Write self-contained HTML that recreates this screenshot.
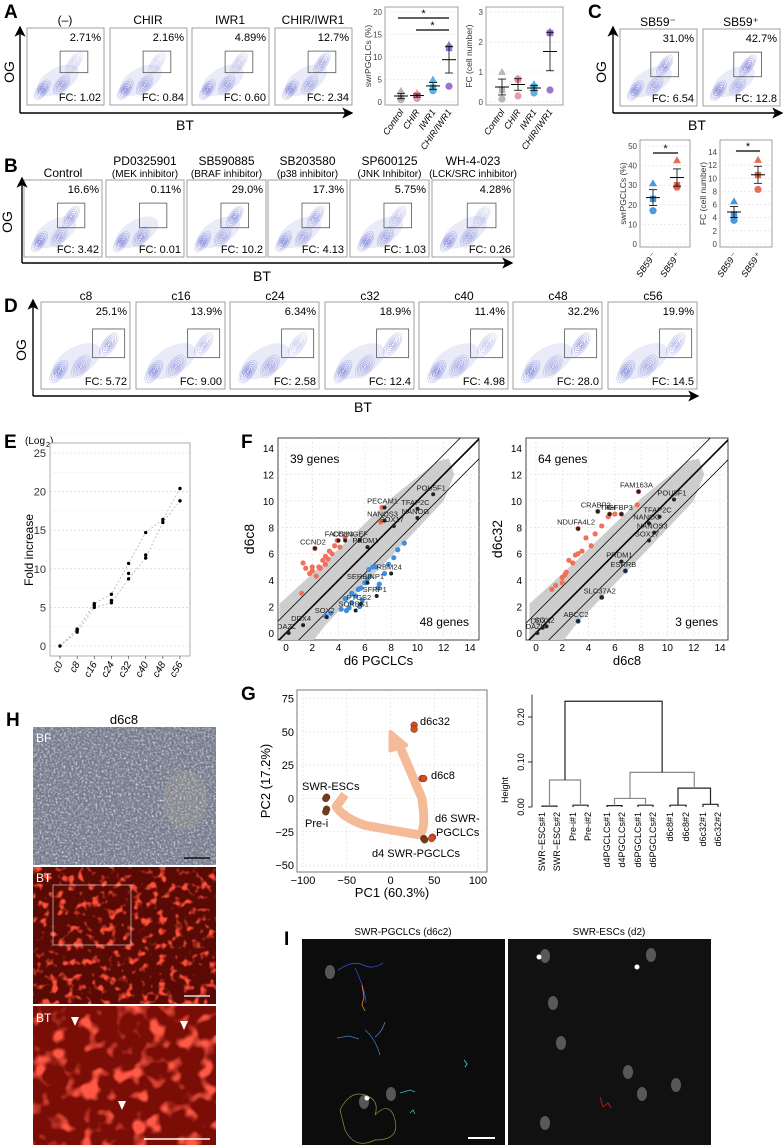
<!DOCTYPE html>
<html><head><meta charset="utf-8"><style>
html,body{margin:0;padding:0;background:#fff}
svg{display:block;font-family:"Liberation Sans",Arial,sans-serif}
</style></head><body>
<svg id="fig" width="784" height="1145" viewBox="0 0 784 1145" xmlns="http://www.w3.org/2000/svg">
<defs>
<marker id="arr" markerWidth="8" markerHeight="8" refX="7" refY="4" orient="auto"><path d="M0,0 L8,4 L0,8 L2,4 Z" fill="#000"/></marker>
<filter id="noiseBF" x="0" y="0" width="100%" height="100%"><feTurbulence type="fractalNoise" baseFrequency="0.45" numOctaves="2" seed="3"/><feColorMatrix type="matrix" values="0 0 0 0 0.15  0 0 0 0 0.18  0 0 0 0 0.3  0 0 0 2.2 -0.7"/></filter>
<filter id="noiseBF2" x="0" y="0" width="100%" height="100%"><feTurbulence type="fractalNoise" baseFrequency="0.5" numOctaves="1" seed="9"/><feColorMatrix type="matrix" values="0 0 0 0 0.85  0 0 0 0 0.83  0 0 0 0 0.78  0 0 0 2.2 -0.85"/></filter>
<filter id="noiseRed" x="0" y="0" width="100%" height="100%"><feTurbulence type="fractalNoise" baseFrequency="0.12" numOctaves="2" seed="7"/><feColorMatrix type="matrix" values="0 0 0 0 1  0 0 0 0 0.08  0 0 0 0 0.04  0 0 0 5 -2.7"/></filter>
<filter id="noiseRed2" x="0" y="0" width="100%" height="100%"><feTurbulence type="fractalNoise" baseFrequency="0.06" numOctaves="2" seed="11"/><feColorMatrix type="matrix" values="0 0 0 0 1  0 0 0 0 0.1  0 0 0 0 0.06  0 0 0 5 -2.6"/></filter>
</defs>
<g id="root"></g>
</svg>
<script>
// ---------- data ----------
const flowA = [["(–)","2.71%","FC: 1.02",0.12],["CHIR","2.16%","FC: 0.84",0.1],["IWR1","4.89%","FC: 0.60",0.3],["CHIR/IWR1","12.7%","FC: 2.34",0.7]];
const flowB = [["Control","","16.6%","FC: 3.42",0.7],["PD0325901","(MEK inhibitor)","0.11%","FC: 0.01",0],["SB590885","(BRAF inhibitor)","29.0%","FC: 10.2",0.9],["SB203580","(p38 inhibitor)","17.3%","FC: 4.13",0.7],["SP600125","(JNK Inhibitor)","5.75%","FC: 1.03",0.3],["WH-4-023","(LCK/SRC inhibitor)","4.28%","FC: 0.26",0.2]];
const flowC = [["SB59⁻","31.0%","FC: 6.54",0.8],["SB59⁺","42.7%","FC: 12.8",1]];
const flowD = [["c8","25.1%","FC: 5.72",0.8],["c16","13.9%","FC: 9.00",0.5],["c24","6.34%","FC: 2.58",0.3],["c32","18.9%","FC: 12.4",0.6],["c40","11.4%","FC: 4.98",0.4],["c48","32.2%","FC: 28.0",0.9],["c56","19.9%","FC: 14.5",0.6]];

const aCats = ["Control","CHIR","IWR1","CHIR/IWR1"];
const aColors = ["#aaaaaa","#e58a98","#3fa6d8","#8a5cc8"];
const aPct = [[2.5,1.0,0.5],[2.0,1.5,0.8],[5.0,3.2,2.5],[12.7,12.0,3.5]];
const aFC = [[1.0,0.4,0.1],[0.8,0.75,0.2],[0.6,0.5,0.3],[2.35,2.3,0.4]];
const cCats = ["SB59⁻","SB59⁺"];
const cColors = ["#2a86d8","#e0553c"];
const cPct = [[31,23,17],[42.7,30,29]];
const cFC = [[6.5,4.5,3.6],[12.8,10.5,8.3]];

const eCats = ["c0","c8","c16","c24","c32","c40","c48","c56"];
const eVals = [[0],[1.8,2.0,2.2],[5.0,5.3,5.5],[5.6,5.9,6.7],[8.7,9.4,10.7],[11.4,11.8,14.7],[16.0,16.4],[18.8,20.4]];
const eTicks = [0,5,10,15,20,25];

const f1Red = [[1.2,3.0],[1.3,5.3],[1.5,4.9],[2,5.0],[2.2,6.4],[2.5,5.0],[2.6,4.9],[2.8,5.5],[3,5.8],[3.2,5.6],[3.5,6.0],[3.7,6.6],[3.9,7.0],[4.5,7.2],[2.0,4.7],[3.0,5.2],[7.3,9.5],[7.2,8.4],[1.8,4.5],[2.3,4.3],[4.1,6.5],[3.3,6.2]];
const f1Blue = [[3,1.3],[3.4,1.5],[4.2,1.8],[4.8,1.9],[5,2.3],[5.3,2.8],[5.5,3.3],[5.7,3.4],[5.8,2.5],[6,3.8],[6.2,4.1],[6.4,4.3],[6.6,5.0],[6.8,5.0],[7.0,3.4],[7.1,3.7],[7.5,4.5],[7.8,5.2],[8.2,5.7],[8.5,6.3],[9,6.8],[4.5,2.6],[5.0,3.0],[5.6,2.0],[6.3,4.8],[4.6,1.7]];
const f1Lab = [["POU5F1",11.2,10.5],["PECAM1",7.5,9.5],["TFAP2C",10,9.4],["NANOS3",7.5,8.5],["NANOG",10,8.7],["SOX17",8.2,8.1],["FADS1",4.0,7.0],["CDH3",4.5,7.0],["NGEF",5.6,7.0],["PRDM1",6.2,6.5],["CCND2",2.2,6.4],["RBM24",8.0,4.5],["SERBINP1",6.2,3.8],["SFRP1",6.9,2.8],["PTGS2",5.7,2.2],["SORBS1",5.3,1.7],["SOX2",3.1,1.2],["DDX4",1.3,0.6],["DAZL",0.2,0.0]];
const f2Red = [[1.2,3.3],[1.5,3.6],[2,4.2],[2.2,4.4],[2.3,4.6],[2.5,5.5],[2.8,5.3],[3,5.9],[3.2,6.0],[3.5,6.2],[3.8,7.2],[4.2,6.6],[4.5,7.5],[5.0,8.1],[5.5,8.8],[6.0,9.0],[3.2,7.9],[4.7,9.2],[5.6,9.0],[6.5,9.0],[7.8,10.7],[7.7,9.7],[2.0,3.8]];
const f2Blue = [[6.8,4.7],[5,2.7],[3.2,0.9]];
const f2Lab = [["FAM163A",7.8,10.7],["POU5F1",10.5,10.1],["CRABP2",4.7,9.2],["TRH",5.6,9.0],["IGFBP3",6.5,9.0],["TFAP2C",9.4,8.8],["NDUFA4L2",3.2,7.9],["NANOG",8.6,8.3],["NANOS3",9.0,7.6],["SOX17",8.6,7.0],["PRDM1",6.5,5.4],["ESRRB",6.8,4.7],["SLC37A2",5,2.7],["ABCC2",3.2,0.9],["SOX2",0.8,0.5],["DDX4",0.5,0.4],["DAZL",0.1,0.0]];

const gX = [-73,-74,-73,-74,38,39,48,47,36,38,27,27];
const gY = [1,0,-8,-10,-30,-31,-29,-30,15,15,55,52];
const gCol = ["#7a3a10","#7a3a10","#7a3a10","#7a3a10","#7a3a10","#7a3a10","#d84b1e","#d84b1e","#d84b1e","#d84b1e","#d84b1e","#d84b1e"];
const gTicksX = [-100,-50,0,50,100];
const gTicksY = [-50,-25,0,25,50,75];

const dLeaves = ["SWR−ESCs#1","SWR−ESCs#2","Pre-i#1","Pre-i#2","d4PGCLCs#1","d4PGCLCs#2","d6PGCLCs#1","d6PGCLCs#2","d6c8#1","d6c8#2","d6c32#1","d6c32#2"];
const dMerges = [[0,1,0.002],[2,3,0.004],[4,5,0.003],[6,7,0.004],[8,9,0.004],[10,11,0.006],[12,13,0.06],[14,15,0.019],[16,17,0.042],[19,20,0.077],[18,21,0.235]];
const dTicks = [0,0.1,0.2];

// ---------- helpers ----------
const NS="http://www.w3.org/2000/svg";
const root=document.getElementById('root');
function el(tag,attrs,parent){const e=document.createElementNS(NS,tag);for(const k in attrs)e.setAttribute(k,attrs[k]);(parent||root).appendChild(e);return e;}
function txt(x,y,s,size,attrs,parent){const t=el('text',Object.assign({x:x,y:y,'font-size':size},attrs||{}),parent);t.textContent=s;return t;}
function label(x,y,s){const t=txt(x,y,s,19,{'font-weight':'bold'});}

function flow(x,y,w,h,gate,pct,fc,frac,name){
  const g=el('g',{});
  
  
  el('rect',{x:x,y:y,width:w,height:h,fill:'#fff',stroke:'#888','stroke-width':0.8},g);
  const hx=x+w*0.4,hy=y+h*0.68;
  el('ellipse',{cx:hx,cy:hy,rx:w*0.3,ry:h*0.16,fill:'#d6d8f4',opacity:0.5,transform:`rotate(-30 ${hx} ${hy})`},g);
  const blobs=[[0.2,0.8,0.07,0.15,1],[0.45,0.74,0.08,0.15,0.6+0.2*(1-frac)],[gate[0]+gate[2]*0.5,gate[1]+gate[3]*0.55,0.07,0.16,frac]];
  blobs.forEach(b=>{
    if(b[4]<=0.02) return;
    const cx=x+w*b[0],cy=y+h*b[1];
    for(let i=6;i>=1;i--){
      el('ellipse',{cx:cx,cy:cy,rx:w*b[2]*i/6,ry:h*b[3]*i/6,fill:'none',stroke:'#5058c8','stroke-width':0.6,opacity:0.2+0.7*b[4]*(7-i)/6,transform:`rotate(35 ${cx} ${cy})`},g);
    }
  });
  const gr=el('rect',{x:x+w*gate[0],y:y+h*gate[1],width:w*gate[2],height:h*gate[3],fill:'none',stroke:'#555','stroke-width':0.8},g);
  
  
  const p=txt(x+w-3,y+13,pct,11,{'text-anchor':'end'},g);
  
  
  const f=txt(x+w-3,y+h-4,fc,11,{'text-anchor':'end'},g);
  
  
}
function axesArrow(x0,yTop,yAxis,xRight,og,bt){
  el('line',{x1:x0,y1:yAxis,x2:x0,y2:yTop,stroke:'#000','stroke-width':1.4,'marker-end':'url(#arr)'});
  el('line',{x1:x0,y1:yAxis,x2:xRight,y2:yAxis,stroke:'#000','stroke-width':1.4,'marker-end':'url(#arr)'});
  const o=txt(og[0],og[1],'OG',14,{transform:`rotate(-90 ${og[0]} ${og[1]})`,'text-anchor':'middle'});
  
  const b=txt(bt[0],bt[1],'BT',14,{'text-anchor':'middle'});
  
}

// ---------- panel A ----------
label(4,18,'A');
const aX=[27,110,192,275];
flowA.forEach((d,i)=>{
  const t=txt(aX[i]+38,24,d[0],12,{'text-anchor':'middle'});
  flow(aX[i],28,77,77,[0.43,0.3,0.36,0.28],d[1],d[2],d[3],'flow-plot-a-'+i);
});
axesArrow(20,27,113,352,[14,72],[185,130]);

function dotPlot(x0,x1,yTop,yBot,y0px,yMaxPx,yMax,ticks,cats,colors,vals,ylab,name,catXs,sig,labY){
  const g=el('g',{});
  
  
  el('rect',{x:x0,y:yTop,width:x1-x0,height:yBot-yTop,fill:'#fff',stroke:'#888','stroke-width':0.8},g);
  const sy=v=>y0px-(y0px-yMaxPx)*v/yMax;
  ticks.forEach(t=>{
    el('line',{x1:x0,x2:x1,y1:sy(t),y2:sy(t),stroke:'#ddd','stroke-width':0.6,'stroke-dasharray':'2,2'},g);
    const tl=txt(x0-3,sy(t)+3,String(t),8,{'text-anchor':'end',fill:'#444'},g);
    
  });
  const yl=txt(x0-14,(yTop+yBot)/2,ylab,8.5,{transform:`rotate(-90 ${x0-14} ${(yTop+yBot)/2})`,'text-anchor':'middle',fill:'#333'},g);
  
  cats.forEach((c,i)=>{
    const cx=catXs[i];
    const v=vals[i];
    const m=v.reduce((a,b)=>a+b,0)/v.length;
    const sd=Math.sqrt(v.reduce((a,b)=>a+(b-m)*(b-m),0)/(v.length-1))/Math.sqrt(v.length);
    const tri=el('path',{d:`M${cx-4},${sy(v[0])+3} L${cx+4},${sy(v[0])+3} L${cx},${sy(v[0])-4} Z`,fill:colors[i],opacity:0.85},g);
    
    const sq=el('rect',{x:cx-3.2,y:sy(v[1])-3.2,width:6.4,height:6.4,fill:colors[i],opacity:0.85},g);
    
    const ci=el('circle',{cx:cx,cy:sy(v[2]),r:3.6,fill:colors[i],opacity:0.85},g);
    
    el('line',{x1:cx-7,x2:cx+7,y1:sy(m),y2:sy(m),stroke:'#000','stroke-width':1},g);
    el('line',{x1:cx,x2:cx,y1:sy(m+sd),y2:sy(m-sd),stroke:'#000','stroke-width':0.8},g);
    el('line',{x1:cx-4,x2:cx+4,y1:sy(m+sd),y2:sy(m+sd),stroke:'#000','stroke-width':0.8},g);
    el('line',{x1:cx-4,x2:cx+4,y1:sy(m-sd),y2:sy(m-sd),stroke:'#000','stroke-width':0.8},g);
    const xl=txt(cx+3,labY,c,9,{'text-anchor':'end',transform:`rotate(-55 ${cx+3} ${labY})`,'font-style':'italic'},g);
    
  });
  sig.forEach(s=>{
    el('line',{x1:s[0],x2:s[1],y1:s[2],y2:s[2],stroke:'#000','stroke-width':1.2},g);
    txt((s[0]+s[1])/2,s[2]-1,'*',11,{'text-anchor':'middle'},g);
  });
}
dotPlot(385,458,7,105,102,12,20,[0,5,10,15,20],aCats,aColors,aPct,'swrPGCLCs (%)','dot-plot-a-percent',[401,417,433,449],[[398,449,18],[416,449,30]],112);
dotPlot(486,563,7,105,102,12,3,[0,1,2,3],aCats,aColors,aFC,'FC (cell number)','dot-plot-a-fc',[502,518,534,550],[],112);

// ---------- panel C ----------
label(588,18,'C');
flowC.forEach((d,i)=>{
  const x=[620,703][i];
  const t=txt(x+38,26,d[0],12,{'text-anchor':'middle'});
  flow(x,29,77,77,[0.4,0.3,0.36,0.32],d[1],d[2],d[3],'flow-plot-c-'+i);
});
axesArrow(613,27,113,782,[606,72],[697,130]);
dotPlot(640,690,140,247,244,146,50,[0,10,20,30,40,50],cCats,cColors,cPct,'swrPGCLCs (%)','dot-plot-c-percent',[653,677],[[653,678,153]],256);
dotPlot(720,772,140,247,244,152,14,[0,2,4,6,8,10,12,14],cCats,cColors,cFC,'FC (cell number)','dot-plot-c-fc',[734,758],[[736,760,151]],256);

// ---------- panel B ----------
label(4,172,'B');
const bX=[24,106,187,268,350,432],bW=[78,78,79,79,79,82];
flowB.forEach((d,i)=>{
  const cx=bX[i]+bW[i]/2;
  if(d[1]){
    const t1=txt(cx,165,d[0],12,{'text-anchor':'middle'});
    const t2=txt(cx,177,d[1],10,{'text-anchor':'middle'});
  } else {
    const t1=txt(cx,177,d[0],12,{'text-anchor':'middle'});
  }
  flow(bX[i],180,bW[i],77,[0.43,0.3,0.35,0.32],d[2],d[3],d[4],'flow-plot-b-'+i);
});
axesArrow(22,178,263,512,[12,222],[262,281]);

// ---------- panel D ----------
label(4,312,'D');
const dX=[41,136,230,325,419,513,608];
flowD.forEach((d,i)=>{
  const t=txt(dX[i]+45,300,d[0],12,{'text-anchor':'middle'});
  flow(dX[i],302,89,87,[0.58,0.31,0.36,0.33],d[1],d[2],d[3],'flow-plot-d-'+i);
});
axesArrow(33,300,396,698,[26,350],[363,412]);

// ---------- panel E ----------
label(4,448,'E');
(function(){
  const g=el('g',{});
  
  
  txt(25,444,'(Log',10,{},g); txt(46,447,'2',7,{},g); txt(50,444,')',10,{},g);
  const x0=50,x1=190,yT=443,yB=656;
  el('rect',{x:x0,y:yT,width:x1-x0,height:yB-yT,fill:'#fff',stroke:'#999','stroke-width':0.8},g);
  const sy=v=>646-(646-453)*v/25;
  const sx=i=>60+i*17.14;
  eTicks.forEach(t=>{
    el('line',{x1:x0,x2:x1,y1:sy(t),y2:sy(t),stroke:'#ccc','stroke-width':0.6,'stroke-dasharray':'2,2'},g);
    el('line',{x1:x0,x2:x1,y1:sy(t+2.5),y2:sy(t+2.5),stroke:'#e4e4e4','stroke-width':0.5,'stroke-dasharray':'2,2'},g);
    const tl=txt(x0-4,sy(t)+4,String(t),11,{'text-anchor':'end',fill:'#333'},g);
    
  });
  const yl=txt(33,550,'Fold increase',12,{transform:'rotate(-90 33 550)','text-anchor':'middle'},g);
  
  let dmin='',dmax='';
  eVals.forEach((v,i)=>{dmin+=(i?'L':'M')+sx(i)+','+sy(Math.min(...v));dmax+=(i?'L':'M')+sx(i)+','+sy(Math.max(...v));});
  el('path',{d:dmin,fill:'none',stroke:'#aaa','stroke-width':0.7,'stroke-dasharray':'2,2'},g);
  el('path',{d:dmax,fill:'none',stroke:'#aaa','stroke-width':0.7,'stroke-dasharray':'2,2'},g);
  eCats.forEach((c,i)=>{
    eVals[i].forEach(v=>{
      const p=el('circle',{cx:sx(i),cy:sy(v),r:1.7,fill:'#000'},g);
      
    });
    el('line',{x1:sx(i),x2:sx(i),y1:yB,y2:yB+3,stroke:'#333','stroke-width':0.6},g);
    const xl=txt(sx(i)+3,yB+8,c,10,{'text-anchor':'end',transform:`rotate(-60 ${sx(i)+3} ${yB+8})`,'font-style':'italic'},g);
    
  });
})();

// ---------- panel F ----------
label(241,448,'F');
function scatterF(x0,x1,yT,yB,ox,ex,red,blue,labs,topTxt,botTxt,xl,yl,name){
  const g=el('g',{});
  
  
  el('rect',{x:x0,y:yT,width:x1-x0,height:yB-yT,fill:'#fff',stroke:'#444','stroke-width':1},g);
  const sx=v=>ox+(ex-ox)*v/14;
  const sy=v=>633-(633-448)*v/14;
  const cp='cp'+name;
  const c=el('clipPath',{id:cp},g);el('rect',{x:x0,y:yT,width:x1-x0,height:yB-yT},c);
  for(let t=0;t<=14;t+=2){
    el('line',{x1:sx(t),x2:sx(t),y1:yT,y2:yB,stroke:'#ddd','stroke-width':0.6,'stroke-dasharray':'2,2'},g);
    el('line',{x1:x0,x2:x1,y1:sy(t),y2:sy(t),stroke:'#ddd','stroke-width':0.6,'stroke-dasharray':'2,2'},g);
    const a=txt(sx(t),yB+11,String(t),10,{'text-anchor':'middle'},g);
    const b=txt(x0-4,sy(t)+4,String(t),10,{'text-anchor':'end'},g);
  }
  const cg=el('g',{'clip-path':`url(#${cp})`},g);
  const band=[[-0.5,-1.2],[-0.5,2.2],[3,5.4],[8,10.2],[11.5,13.0],[12.4,13.2],[12.8,12.0],[12,10.0],[8,5.8],[3,0.6],[1.6,-1.2]];
  el('path',{d:'M'+band.map(p=>sx(p[0])+','+sy(p[1])).join(' L')+'Z',fill:'#cdcdcd'},cg);
  [0,1.5,-1.5].forEach((off,i)=>{
    el('line',{x1:sx(-1),y1:sy(-1+off),x2:sx(15),y2:sy(15+off),stroke:'#000','stroke-width':i?0.8:1.6},cg);
  });
  red.forEach(p=>{const m=el('circle',{cx:sx(p[0]),cy:sy(p[1]),r:2.6,fill:'#f0705a'},cg);});
  blue.forEach(p=>{const m=el('circle',{cx:sx(p[0]),cy:sy(p[1]),r:2.6,fill:'#3d8fe0'},cg);});
  labs.forEach(l=>{
    el('circle',{cx:sx(l[1]),cy:sy(l[2]),r:2,fill:'#222'},cg);
    const t=txt(sx(l[1])-2,sy(l[2])-4,l[0],7.5,{fill:'#222','text-anchor':'middle'},cg);
    
  });
  txt(x0+12,yT+25,topTxt,12,{},g);
  txt(x1-10,yB-14,botTxt,12,{'text-anchor':'end'},g);
  const a=txt((x0+x1)/2,yB+25,xl,13,{'text-anchor':'middle'},g);
  const b=txt(x0-24,(yT+yB)/2,yl,14,{'text-anchor':'middle',transform:`rotate(-90 ${x0-24} ${(yT+yB)/2})`},g);
}
scatterF(278,479,438,640,286,470,f1Red,f1Blue,f1Lab,'39 genes','48 genes','d6 PGCLCs','d6c8','scatter-d6-vs-d6c8');
scatterF(526,728,438,640,536,720,f2Red,f2Blue,f2Lab,'64 genes','3 genes','d6c8','d6c32','scatter-d6c8-vs-d6c32');

// ---------- panel G ----------
label(241,700,'G');
(function(){
  const g=el('g',{});
  
  
  const x0=297,x1=487,yT=690,yB=872;
  el('rect',{x:x0,y:yT,width:x1-x0,height:yB-yT,fill:'#fff',stroke:'#777','stroke-width':1},g);
  const sx=v=>390.5+v*0.875;
  const sy=v=>798.5-v*1.333;
  gTicksX.forEach(t=>{el('line',{x1:sx(t),x2:sx(t),y1:yT,y2:yB,stroke:'#ddd','stroke-width':0.6,'stroke-dasharray':'2,2'},g);
    const a=txt(sx(t),yB+12,String(t).replace('-','−'),11,{'text-anchor':'middle'},g);});
  gTicksY.forEach(t=>{el('line',{x1:x0,x2:x1,y1:sy(t),y2:sy(t),stroke:'#ddd','stroke-width':0.6,'stroke-dasharray':'2,2'},g);
    const a=txt(x0-3,sy(t)+4,String(t).replace('-','−'),11,{'text-anchor':'end'},g);});
  el('path',{d:`M${sx(-52)},${sy(3)} L${sx(-62)},${sy(-6)} Q${sx(-55)},${sy(-14)} ${sx(-30)},${sy(-20)} L${sx(30)},${sy(-27)} Q${sx(42)},${sy(-28)} ${sx(36)},${sy(0)} L${sx(10)},${sy(40)}`,fill:'none',stroke:'#f5bb98','stroke-width':9,'stroke-linejoin':'round'},g);
  el('path',{d:`M${sx(0)},${sy(50)} L${sx(0)},${sy(36)} L${sx(18)},${sy(40)} Z`,fill:'#f5bb98',stroke:'#f5bb98','stroke-width':4,'stroke-linejoin':'round'},g);
  gX.forEach((v,i)=>{const p=el('circle',{cx:sx(v),cy:sy(gY[i]),r:3.4,fill:gCol[i],stroke:'#333','stroke-width':0.4},g);});
  [['d6c32',420,725],['d6c8',431,779],['SWR-ESCs',302,790],['Pre-i',305,827],['d6 SWR-',435,822],['PGCLCs',436,836],['d4 SWR-PGCLCs',372,857]].forEach(l=>{
    const t=txt(l[1],l[2],l[0],11,{},g);});
  const a=txt(392,897,'PC1 (60.3%)',13,{'text-anchor':'middle'},g);
  const b=txt(270,781,'PC2 (17.2%)',13,{'text-anchor':'middle',transform:'rotate(-90 270 781)'},g);
})();

// dendrogram
(function(){
  const g=el('g',{});
  
  
  const sy=v=>807-v*450;
  const leafX=[542,557,573,588,607,622,638,653,670,686,703,718];
  el('line',{x1:532,x2:532,y1:sy(0),y2:sy(0.25),stroke:'#000','stroke-width':0.8},g);
  dTicks.forEach(t=>{el('line',{x1:528,x2:532,y1:sy(t),y2:sy(t),stroke:'#000','stroke-width':0.8},g);
    const a=txt(524,sy(t),t.toFixed(2),9,{'text-anchor':'middle',transform:`rotate(-90 524 ${sy(t)})`},g);});
  const h=txt(508,790,'Height',9,{'text-anchor':'middle',transform:'rotate(-90 508 790)'},g);
  const nodes=leafX.map(x=>({x:x,h:0}));
  dMerges.forEach(m=>{
    const a=nodes[m[0]],b=nodes[m[1]];
    const col=m[2]>0.01&&m[2]<0.2&&m[2]!==0.042?'#888':'#222';
    el('path',{d:`M${a.x},${sy(a.h)} L${a.x},${sy(m[2])} L${b.x},${sy(m[2])} L${b.x},${sy(b.h)}`,fill:'none',stroke:col,'stroke-width':1.2},g);
    nodes.push({x:(a.x+b.x)/2,h:m[2]});
  });
  dLeaves.forEach((l,i)=>{const t=txt(leafX[i]+3,812,l,9,{'text-anchor':'end',transform:`rotate(-90 ${leafX[i]+3} 812)`},g);});
})();

// ---------- panel H ----------
label(6,726,'H');
(function(){
  const g=el('g',{});
  
  
  const t=txt(124,724,'d6c8',13,{'text-anchor':'middle'},g);
  const bf=el('rect',{x:33,y:727,width:183,height:138,fill:'#7c8088'},g);
  el('rect',{x:33,y:727,width:183,height:138,filter:'url(#noiseBF2)'},g);
  el('rect',{x:33,y:727,width:183,height:138,filter:'url(#noiseBF)'},g);
  el('ellipse',{cx:185,cy:800,rx:22,ry:30,fill:'#c9b99a',opacity:0.2},g);
  txt(36,742,'BF',12,{fill:'#fff'},g);
  el('line',{x1:184,x2:210,y1:858,y2:858,stroke:'#111','stroke-width':1.5},g);
  const bt=el('rect',{x:33,y:867,width:183,height:137,fill:'#5a0a04'},g);
  el('rect',{x:33,y:867,width:183,height:137,filter:'url(#noiseRed)'},g);
  el('rect',{x:53,y:885,width:78,height:60,fill:'none',stroke:'#ccc','stroke-width':0.7},g);
  txt(36,882,'BT',12,{fill:'#fff'},g);
  el('line',{x1:184,x2:210,y1:996,y2:996,stroke:'#ddd','stroke-width':1.5},g);
  const bz=el('rect',{x:33,y:1006,width:183,height:139,fill:'#7a0d06'},g);
  el('rect',{x:33,y:1006,width:183,height:139,filter:'url(#noiseRed2)'},g);
  txt(36,1022,'BT',12,{fill:'#fff'},g);
  [[75,1017],[184,1021],[122,1101]].forEach(p=>el('path',{d:`M${p[0]-4},${p[1]} L${p[0]+4},${p[1]} L${p[0]},${p[1]+9} Z`,fill:'#fff'},g));
  el('line',{x1:144,x2:210,y1:1139,y2:1139,stroke:'#fff','stroke-width':1.5},g);
})();

// ---------- panel I ----------
label(284,945,'I');
(function(){
  const g=el('g',{});
  
  
  txt(403,935,'SWR-PGCLCs (d6c2)',10,{'text-anchor':'middle'},g);
  txt(609,935,'SWR-ESCs (d2)',10,{'text-anchor':'middle'},g);
  const p1=el('rect',{x:302,y:939,width:203,height:206,fill:'#0c0c0c'},g);
  const p2=el('rect',{x:508,y:939,width:203,height:206,fill:'#111'},g);
  [[330,972],[364,1102],[391,1094],[545,956],[553,1003],[561,1043],[628,1072],[642,1094],[676,1085],[545,1123],[651,955]].forEach(c=>el('ellipse',{cx:c[0],cy:c[1],rx:5,ry:7,fill:'#888',opacity:0.6},g));
  [[539,957],[637,967],[367,1098]].forEach(c=>el('circle',{cx:c[0],cy:c[1],r:2.5,fill:'#fff'},g));
  el('path',{d:'M338,970 q15,-10 25,-5 t20,-2 M355,968 q5,10 8,20 t3,15',fill:'none',stroke:'#3a4ad8','stroke-width':0.8},g);
  el('path',{d:'M362,985 l2,12 -2,8 3,6',fill:'none',stroke:'#e08830','stroke-width':0.8},g);
  el('path',{d:'M337,1038 l12,-2 10,3 M365,1030 q10,8 15,25 M385,1022 q-3,10 -10,15',fill:'none',stroke:'#3a80c8','stroke-width':0.8},g);
  el('path',{d:'M340,1110 q10,-20 25,-15 t10,20 q15,-15 20,5 t-20,20 q-20,10 -30,-10z',fill:'none',stroke:'#7a9a40','stroke-width':0.7},g);
  el('path',{d:'M400,1093 l10,-3 5,2 M410,1113 l3,-3 2,4',fill:'none',stroke:'#3ac0c0','stroke-width':0.8},g);
  el('path',{d:'M464,1060 l3,4 -2,3',fill:'none',stroke:'#3ac0d0','stroke-width':1},g);
  el('path',{d:'M600,1097 l3,10 5,-4 3,5',fill:'none',stroke:'#d02020','stroke-width':0.8},g);
  el('line',{x1:468,x2:495,y1:1138,y2:1138,stroke:'#fff','stroke-width':2},g);
})();
</script>
</body></html>
